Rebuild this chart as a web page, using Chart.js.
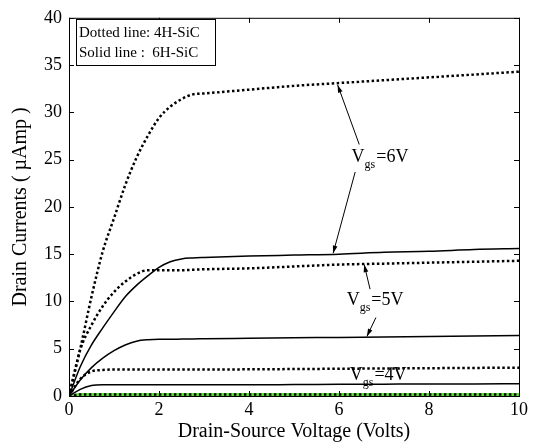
<!DOCTYPE html>
<html>
<head>
<meta charset="utf-8">
<script src="https://cdn.jsdelivr.net/npm/chart.js@4/dist/chart.umd.min.js"></script>
<style>
  html, body { margin: 0; padding: 0; background: #fff; }
  #wrap { width: 539px; height: 444px; }
</style>
</head>
<body>
<div id="wrap"><canvas id="ivChart" width="539" height="444"></canvas></div>
<script>
// drain-source voltage samples (V)
const vds = [0, 0.25, 0.5, 0.75, 1, 1.25, 1.5, 1.75, 2, 2.25, 2.5, 2.75, 3, 4, 5, 6, 7, 8, 9, 10];

// drain currents (uA), dotted = 4H-SiC, solid = 6H-SiC
const id4H_6V = [0, 5.0, 10.5, 15.3, 18.8, 22.3, 25.2, 27.5, 29.4, 30.6, 31.4, 31.9, 32.0, 32.4, 32.8, 33.1, 33.4, 33.7, 34.0, 34.3];
const id4H_5V = [0, 4.9, 7.5, 9.5, 11.0, 12.1, 12.9, 13.3, 13.3, 13.3, 13.3, 13.35, 13.4, 13.5, 13.7, 13.9, 14.0, 14.1, 14.2, 14.3];
const id4H_4V = [0, 1.8, 2.6, 2.75, 2.8, 2.8, 2.8, 2.8, 2.8, 2.8, 2.8, 2.8, 2.8, 2.82, 2.85, 2.88, 2.91, 2.94, 2.97, 3.0];
const id6H_6V = [0, 3.1, 5.4, 7.2, 8.9, 10.5, 11.7, 12.7, 13.6, 14.2, 14.5, 14.6, 14.65, 14.8, 14.9, 15.0, 15.2, 15.3, 15.5, 15.6];
const id6H_5V = [0, 1.7, 3.0, 4.0, 4.8, 5.4, 5.8, 5.95, 6.0, 6.0, 6.02, 6.04, 6.05, 6.1, 6.15, 6.2, 6.25, 6.3, 6.35, 6.4];
const id6H_4V = [0, 0.7, 1.1, 1.18, 1.18, 1.18, 1.18, 1.18, 1.18, 1.18, 1.18, 1.18, 1.18, 1.19, 1.21, 1.23, 1.25, 1.27, 1.28, 1.3];
const idLow   = [0, 0.15, 0.15, 0.15, 0.15, 0.15, 0.15, 0.15, 0.15, 0.15, 0.15, 0.15, 0.15, 0.15, 0.15, 0.15, 0.15, 0.15, 0.15, 0.15];

const xTicks = [0, 2, 4, 6, 8, 10];
const yTicks = [0, 5, 10, 15, 20, 25, 30, 35, 40];

// Vgs labels: [text, x, y] in data units, arrows: [fromX, fromY, toX, toY]
const vgsLabels = [['6V', 6.28, 24.8], ['5V', 6.17, 9.6], ['4V', 6.24, 1.7]];
const vgsArrows = [
  [6.45, 26.6, 5.97, 32.9],
  [6.36, 23.7, 5.87, 15.1],
  [6.69, 11.3, 6.56, 13.9],
  [6.82, 8.3, 6.62, 6.3]
];

const SERIF = '"Liberation Serif", "DejaVu Serif", serif';

const pts = (ys) => vds.map((x, i) => ({ x: x, y: ys[i] }));

const dotted = (ys) => ({
  data: pts(ys),
  borderColor: '#000',
  borderWidth: 2.5,
  borderDash: [2.5, 2.5],
  pointRadius: 0,
  cubicInterpolationMode: 'monotone',
  fill: false
});
const solid = (ys) => ({
  data: pts(ys),
  borderColor: '#000',
  borderWidth: 1.5,
  pointRadius: 0,
  cubicInterpolationMode: 'monotone',
  fill: false
});

// box with inward ticks, legend box and Vgs annotations
const decorPlugin = {
  id: 'decor',
  afterDraw(chart) {
    const { ctx, chartArea: a, scales } = chart;
    const xs = scales.x, ys = scales.y;
    ctx.save();
    ctx.strokeStyle = '#000';
    ctx.lineWidth = 1;
    ctx.strokeRect(a.left + 0.5, a.top + 0.5, a.right - a.left, a.bottom - a.top);
    ctx.beginPath();
    xTicks.forEach(v => {
      const px = Math.round(xs.getPixelForValue(v)) + 0.5;
      ctx.moveTo(px, a.bottom); ctx.lineTo(px, a.bottom - 5);
      ctx.moveTo(px, a.top); ctx.lineTo(px, a.top + 5);
    });
    yTicks.forEach(v => {
      const py = Math.round(ys.getPixelForValue(v)) + 0.5;
      ctx.moveTo(a.left, py); ctx.lineTo(a.left + 5, py);
      ctx.moveTo(a.right, py); ctx.lineTo(a.right - 5, py);
    });
    ctx.stroke();

    // legend text box
    ctx.fillStyle = '#fff';
    ctx.fillRect(77, 20, 138, 45);
    ctx.strokeRect(76.5, 19.5, 139, 46);
    ctx.fillStyle = '#000';
    ctx.font = '15px ' + SERIF;
    ctx.textBaseline = 'middle';
    ctx.textAlign = 'left';
    ctx.fillText('Dotted line: 4H-SiC', 79, 33);
    ctx.fillText('Solid line :  6H-SiC', 79, 53);

    // arrows
    vgsArrows.forEach(([x0, y0, x1, y1]) => {
      const p0x = xs.getPixelForValue(x0), p0y = ys.getPixelForValue(y0);
      const p1x = xs.getPixelForValue(x1), p1y = ys.getPixelForValue(y1);
      const ang = Math.atan2(p1y - p0y, p1x - p0x);
      ctx.lineWidth = 1;
      ctx.beginPath();
      ctx.moveTo(p0x, p0y);
      ctx.lineTo(p1x, p1y);
      ctx.stroke();
      ctx.beginPath();
      ctx.moveTo(p1x, p1y);
      ctx.lineTo(p1x - 8 * Math.cos(ang - 0.3), p1y - 8 * Math.sin(ang - 0.3));
      ctx.lineTo(p1x - 8 * Math.cos(ang + 0.3), p1y - 8 * Math.sin(ang + 0.3));
      ctx.closePath();
      ctx.fill();
    });

    // Vgs labels with subscript
    ctx.textBaseline = 'alphabetic';
    vgsLabels.forEach(([txt, x, y]) => {
      const px = xs.getPixelForValue(x), py = ys.getPixelForValue(y);
      ctx.font = '18px ' + SERIF;
      ctx.fillText('V', px, py);
      const wV = ctx.measureText('V').width;
      ctx.font = '12px ' + SERIF;
      ctx.fillText('gs', px + wV, py + 6);
      const wS = ctx.measureText('gs').width;
      ctx.font = '18px ' + SERIF;
      ctx.fillText('=' + txt, px + wV + wS + 1, py);
    });
    ctx.restore();
  }
};

new Chart(document.getElementById('ivChart'), {
  type: 'line',
  data: {
    datasets: [
      dotted(id4H_6V),
      dotted(id4H_5V),
      dotted(id4H_4V),
      solid(id6H_6V),
      solid(id6H_5V),
      solid(id6H_4V),
      dotted(idLow),
      { data: pts(idLow), borderColor: '#5fdc3c', borderWidth: 3, pointRadius: 0, fill: false }
    ]
  },
  options: {
    responsive: false,
    animation: false,
    devicePixelRatio: 1,
    layout: { padding: { top: 14, right: 20, left: 0, bottom: 0 } },
    plugins: { legend: { display: false }, tooltip: { enabled: false } },
    scales: {
      x: {
        type: 'linear',
        min: 0, max: 10,
        afterFit: (s) => { s.height = 48; },
        afterBuildTicks: (s) => { s.ticks = xTicks.map(v => ({ value: v })); },
        grid: { display: false, drawTicks: false },
        border: { display: false },
        ticks: { color: '#000', padding: 3, maxRotation: 0, font: { family: SERIF, size: 18 } },
        title: {
          display: true,
          text: 'Drain-Source Voltage (Volts)',
          color: '#000',
          padding: { top: 0, bottom: 0 },
          font: { family: SERIF, size: 20 }
        }
      },
      y: {
        type: 'linear',
        min: 0, max: 40,
        afterFit: (s) => { s.width = 69; },
        afterBuildTicks: (s) => { s.ticks = yTicks.map(v => ({ value: v })); },
        grid: { display: false, drawTicks: false },
        border: { display: false },
        ticks: { color: '#000', padding: 7, font: { family: SERIF, size: 18 } },
        title: {
          display: true,
          text: 'Drain Currents ( \u00b5Amp )',
          color: '#000',
          padding: { top: 9, bottom: 0 },
          font: { family: SERIF, size: 20 }
        }
      }
    }
  },
  plugins: [decorPlugin]
});
</script>
</body>
</html>
